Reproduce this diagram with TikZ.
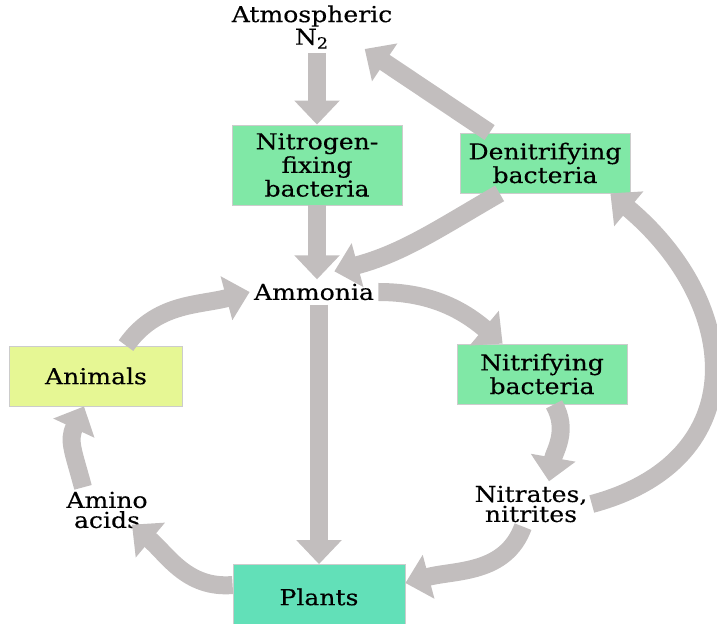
\documentclass[tikz,border=0pt]{standalone}
\usepackage{fontspec}
\setmainfont{DejaVu Serif}[FakeStretch=1.14, FakeBold=0.3]
\usetikzlibrary{arrows.meta}
\definecolor{fixgreen}{RGB}{128,232,166}
\definecolor{plantgreen}{RGB}{98,224,184}
\definecolor{animalyellow}{RGB}{230,247,148}
\definecolor{flowgray}{RGB}{194,190,190}

\begin{document}
\begin{tikzpicture}[
  x=0.5pt, y=-0.5pt,
  font=\fontsize{11}{10}\selectfont,
  box/.style={draw=black!20, align=center, minimum width=85pt, minimum height=30pt, inner sep=2pt},
  term/.style={align=center, inner sep=2pt},
  flow/.style={draw=flowgray, line width=9pt, -{Triangle[width=22pt,length=12pt]}}
]
\useasboundingbox (0,0) rectangle (717,624);

% nodes
\node[term] (atm) at (312,27) {Atmospheric\\N\textsubscript{2}};
\node[box, fill=fixgreen, minimum height=40pt] (fix) at (317,165) {Nitrogen-\\fixing\\bacteria};
\node[box, fill=fixgreen] (denit) at (545,163) {Denitrifying\\bacteria};
\node[term] (amm) at (314,292) {Ammonia};
\node[box, fill=animalyellow, minimum width=86.5pt] (animals) at (96,376) {Animals};
\node[box, fill=fixgreen] (nitrif) at (542,374) {Nitrifying\\bacteria};
\node[term] (amino) at (107,510) {Amino\\acids};
\node[term] (nitr) at (531,504) {Nitrates,\\nitrites};
\node[box, fill=plantgreen, minimum width=86pt, minimum height=32.5pt] (plants) at (319,597) {Plants};

% flows
\draw[flow] (atm.south -| fix) -- (fix);
\draw[flow] (fix) -- (fix |- amm.north);
\draw[flow] ([xshift=15pt]denit.north west) -- ([xshift=-16pt,yshift=2pt]atm.south east);
\draw[flow] ([xshift=20pt]denit.south west) to[out=210, in=15] ([xshift=-22pt,yshift=4pt]amm.north east);
\draw[flow] (amm.east) to[out=0, in=140] ([xshift=23pt]nitrif.north west);
\draw[flow] (amm.south -| plants) -- (plants);
\draw[flow] ([xshift=6pt]nitrif.south) to[out=-60, in=80] ([xshift=9pt]nitr.north);
\draw[flow] ([xshift=-4pt]nitr.south) to[out=-110, in=15] ([yshift=7pt]plants.east);
\draw[flow] (nitr.east) to[out=15, in=-40, looseness=1.4] ([xshift=-10pt]denit.south east);
\draw[flow] ([yshift=6pt]plants.west) to[out=185, in=-40] ([xshift=-10pt,yshift=4pt]amino.south east);
\draw[flow] ([xshift=-12pt]amino.north) to[out=105, in=-115, looseness=1.2] ([xshift=-6pt]animals.south);
\draw[flow] ([xshift=15pt]animals.north) to[out=55, in=195] (amm.west);
\end{tikzpicture}
\end{document}
